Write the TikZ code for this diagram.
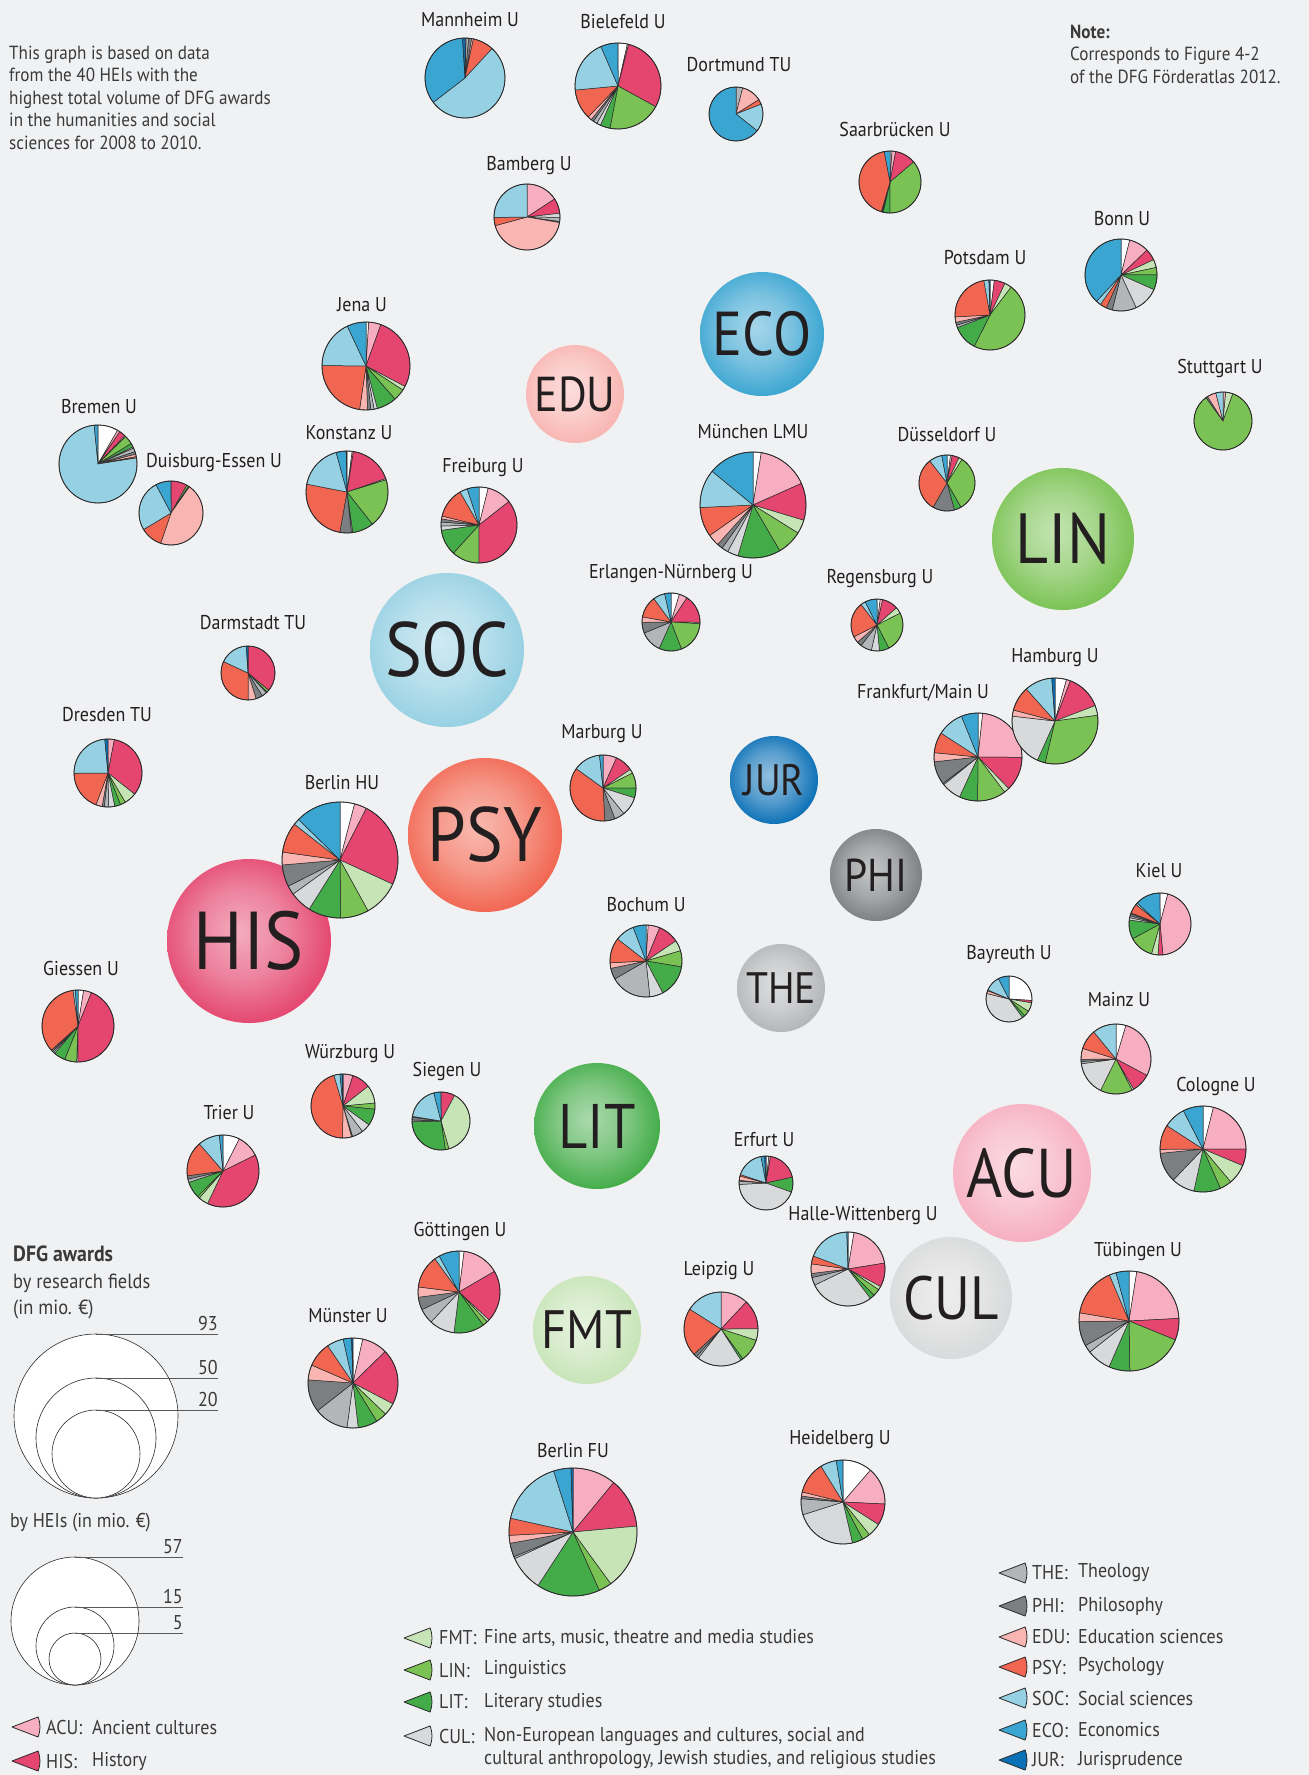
\documentclass[tikz,border=0pt]{standalone}
\usepackage{fontspec}
\setmainfont{PT Sans}[FakeStretch=0.9]

% colours of the research fields
\definecolor{bg}{HTML}{F0F1F3}
\definecolor{txt}{HTML}{231F20}
\definecolor{txtsoft}{HTML}{3A3A3A}
\definecolor{pieline}{HTML}{2A2A2A}
\definecolor{cW}{HTML}{FFFFFF}
\definecolor{cACU}{HTML}{F6AEC0}
\definecolor{cHIS}{HTML}{E4466F}
\definecolor{cFMT}{HTML}{C7E4B7}
\definecolor{cLIN}{HTML}{7AC253}
\definecolor{cLIT}{HTML}{43AC48}
\definecolor{cCUL}{HTML}{D8D9DA}
\definecolor{cTHE}{HTML}{B3B6B8}
\definecolor{cPHI}{HTML}{7B7F82}
\definecolor{cEDU}{HTML}{F8B5B1}
\definecolor{cPSY}{HTML}{F16651}
\definecolor{cSOC}{HTML}{96D0E3}
\definecolor{cECO}{HTML}{3BA5D1}
\definecolor{cJUR}{HTML}{0B70B6}

% shaded bubble of a research field
\colorlet{fieldbase}{cECO}
\pgfdeclareradialshading[fieldbase]{fieldshade}{\pgfpoint{-3bp}{3bp}}{%
  color(0bp)=(fieldbase!45!white);
  color(14bp)=(fieldbase!68!white);
  color(22bp)=(fieldbase!88!white);
  color(27bp)=(fieldbase);
  color(50bp)=(fieldbase!88!black)}

% pie of one HEI: x, y (pixels, y down), radius, shares in the order
% white, ACU, HIS, FMT, LIN, LIT, CUL, THE, PHI, EDU, PSY, SOC, ECO, JUR
\newcommand{\heipie}[4]{%
  \gdef\piesum{0}%
  \foreach \v in {#4} {\pgfmathsetmacro\tmpsum{\piesum+\v}\global\let\piesum\tmpsum}%
  \gdef\angstart{90}%
  \foreach \c [count=\i] in {cW,cACU,cHIS,cFMT,cLIN,cLIT,cCUL,cTHE,cPHI,cEDU,cPSY,cSOC,cECO,cJUR} {%
    \pgfmathsetmacro\v{{#4}[\i-1]}%
    \pgfmathsetmacro\angend{\angstart-\v/\piesum*360}%
    \ifdim\v pt>0pt
      \filldraw[slice, fill=\c] (#1,-#2) -- ++(\angstart:#3)
        arc[start angle=\angstart, end angle=\angend, radius=#3] -- cycle;
    \fi
    \global\let\angstart\angend
  }%
  \draw[pierim] (#1,-#2) circle[radius=#3];
}

% one HEI: node name, label, label x, label y, pie x, pie y, radius, shares
\newcommand{\hei}[8]{%
  \heipie{#5}{#6}{#7}{#8}
  \node[heilabel] (#1) at (#3,-#4) {#2};
}

% wedge of the legend, tip at x, y
\newcommand{\legwedge}[3]{%
  \filldraw[wedge, fill=#3] (#1,-#2) -- ++(21:28) arc[start angle=21, end angle=-21, radius=28] -- cycle;
}

\begin{document}
\begin{tikzpicture}[x=1pt, y=1pt,
    slice/.style={draw=pieline, line width=0.5pt, line join=round},
    pierim/.style={draw=pieline, line width=0.8pt},
    wedge/.style={draw=pieline, line width=0.8pt, line join=round},
    field/.style={circle, inner sep=0pt, text=txt, shade, shading=fieldshade,
      /utils/exec={\colorlet{fieldbase}{#1}}},
    heilabel/.style={font=\fontsize{20}{20}\selectfont, text=txt, inner sep=0pt},
    legtext/.style={font=\fontsize{20}{24}\selectfont, text=txtsoft, inner sep=0pt, anchor=west},
    legcircle/.style={draw=pieline, fill=white, line width=0.6pt},
    legline/.style={draw=black!65, line width=0.7pt}]

  % background and page size
  \fill[bg] (0,0) rectangle (1309,-1775);
  \useasboundingbox (0,0) rectangle (1309,-1775);

  % research fields
  \node[field=cECO, minimum size=124pt, font=\fontsize{62}{62}\selectfont] (ECO) at (762,-334) {ECO};
  \node[field=cEDU, minimum size=98pt,  font=\fontsize{49}{49}\selectfont] (EDU) at (575,-394) {EDU};
  \node[field=cLIN, minimum size=142pt, font=\fontsize{71}{71}\selectfont] (LIN) at (1063,-539) {LIN};
  \node[field=cSOC, minimum size=154pt, font=\fontsize{77}{77}\selectfont] (SOC) at (447,-650) {SOC};
  \node[field=cJUR, minimum size=88pt,  font=\fontsize{44}{44}\selectfont] (JUR) at (774,-780) {JUR};
  \node[field=cPSY, minimum size=154pt, font=\fontsize{77}{77}\selectfont] (PSY) at (485,-835) {PSY};
  \node[field=cPHI, minimum size=92pt,  font=\fontsize{46}{46}\selectfont] (PHI) at (876,-875) {PHI};
  \node[field=cHIS, minimum size=164pt, font=\fontsize{82}{82}\selectfont] (HIS) at (249,-941) {HIS};
  \node[field=cTHE, minimum size=88pt,  font=\fontsize{44}{44}\selectfont] (THE) at (781,-988) {THE};
  \node[field=cLIT, minimum size=126pt, font=\fontsize{63}{63}\selectfont] (LIT) at (597,-1126) {LIT};
  \node[field=cACU, minimum size=138pt, font=\fontsize{69}{69}\selectfont] (ACU) at (1022,-1173) {ACU};
  \node[field=cCUL, minimum size=122pt, font=\fontsize{61}{61}\selectfont] (CUL) at (951,-1298) {CUL};
  \node[field=cFMT, minimum size=108pt, font=\fontsize{54}{54}\selectfont] (FMT) at (587,-1330) {FMT};

  % HEIs
  \hei{mannheim}{Mannheim U}{470}{20}{465}{78}{40}{0,0.5,0,0,0,0,0,1,1.2,0.7,8.5,53,34.6,1}
  \hei{bielefeld}{Bielefeld U}{623}{22}{618}{86}{43}{3.5,0.5,29,0,20,3.7,1.5,1.5,1,1.5,11.3,20,6.5,0}
  \hei{dortmund}{Dortmund TU}{739}{65}{736}{114}{27}{0,0,0,0,0,0,0,4,0,12,3,16.5,64,0}
  \hei{bamberg}{Bamberg U}{529}{166}{527}{217}{33}{0,15.7,7.3,0,0,0,2,2,0.5,42.7,4,25,0,0}
  \hei{saarbruecken}{Saarbrücken U}{895}{129}{890}{182}{31}{1,2,11,0,36.7,3.5,0,0.5,0.5,0,43,0,3,0}
  \hei{bonn}{Bonn U}{1122}{219}{1121}{275}{36}{3.9,8.9,5.2,3.6,3.3,6.7,11.4,10.8,2.8,0,3,2.2,38,0}
  \hei{potsdam}{Potsdam U}{985}{258}{990}{315}{35}{2,0,5,3.3,47,11.7,0,1.2,1.3,2.5,23,2.3,0,0.5}
  \hei{stuttgart}{Stuttgart U}{1220}{368}{1223}{421}{29}{0,1.5,0,4,84.5,0,0,0,1,5,0,4,0,0}
  \hei{jena}{Jena U}{362}{305}{366}{366}{44}{1,4.5,27.3,1.5,4.4,7.3,1.2,1.2,1.2,2.9,22.9,17.9,7,0}
  \hei{bremen}{Bremen U}{99}{407}{98}{464}{39}{8,1,2.5,0.5,3.5,1.5,0.5,1.5,1,1,0.5,72.5,1.5,0}
  \hei{duisburg}{Duisburg-Essen U}{214}{463}{171}{513}{32}{0,0,8.3,0,1,0.5,0,0,0,45.7,11.2,26,7.8,0}
  \hei{konstanz}{Konstanz U}{349}{433}{347}{492}{41}{2,0.5,17,0.5,19,8.3,0,0.5,4.5,0,25,17.5,3.9,0.3}
  \hei{freiburg}{Freiburg U}{483}{468}{479}{525}{38}{3.9,10.5,35.6,0,11.7,11,1.8,1.7,1.3,1.2,12.9,3.3,5,0}
  \hei{muenchen}{München LMU}{753}{432}{753}{505}{53}{2.5,15.8,11.3,4.2,7.7,13,3.3,2,1.7,3.6,9,11.7,14,0}
  \hei{duesseldorf}{Düsseldorf U}{947}{435}{947}{483}{28}{2,1,4,2,32.5,4,0,0,12.5,0,31,7.5,3,0}
  \hei{erlangen}{Erlangen-Nürnberg U}{671}{574}{671}{622}{29}{4.7,4.5,15.8,0.8,18,12.5,0,12,6,3,12,6.5,3.5,0}
  \hei{regensburg}{Regensburg U}{880}{579}{877}{625}{26}{2,1.5,10,4,25,6,5,7,3,4,22,3,7.5,0}
  \hei{darmstadt}{Darmstadt TU}{253}{623}{248}{673}{27}{0,0,36,0,1.5,0.5,0,3,4,4.7,32,17,0,1}
  \hei{frankfurt}{Frankfurt/Main U}{923}{693}{978}{757}{44}{1.7,23.3,12.5,2,10.4,6.7,7.3,0.5,8.5,3.3,7.5,9.7,6.1,0}
  \hei{hamburg}{Hamburg U}{1055}{658}{1055}{721}{43}{4.3,1.5,13.3,3.7,30.7,3,20,0,0,2.3,9.2,10.4,0,1.2}
  \hei{dresden}{Dresden TU}{107}{715}{108}{773}{34}{0,3,32.5,5.8,2.5,2.8,2.9,2,1,3,19,23.5,0,1.5}
  \hei{marburg}{Marburg U}{602}{734}{603}{788}{33}{0,6.7,8.8,2,7.5,4.8,9.3,5,5,0,35.8,13.3,1.7,0}
  \hei{berlinhu}{Berlin HU}{342}{783}{340}{860}{58}{4,3.4,24,10,7.7,9,6,2.5,6,3.5,8.3,1.7,12.5,0}
  \hei{kiel}{Kiel U}{1159}{871}{1160}{924}{31}{4,44,2.5,3.4,12.6,9.8,1.2,1,1,0.5,5,1,13,0}
  \hei{bochum}{Bochum U}{646}{905}{646}{961}{36}{1,5.2,9.4,4.8,7.2,14.7,6,18.4,5,2.5,11.3,8.7,5.8,0}
  \hei{bayreuth}{Bayreuth U}{1009}{954}{1009}{999}{23}{26,0,1.7,6.3,4,2,38.9,0,0,2,0.5,11,7.6,0}
  \hei{giessen}{Giessen U}{81}{968}{78}{1026}{36}{2.5,3.6,43.9,0.5,5.4,5.2,0.7,0.7,0.6,0,34.5,1,1.2,0}
  \hei{mainz}{Mainz U}{1119}{999}{1116}{1059}{35}{4.5,27.8,8.7,0.8,14.7,0,15.3,1,1,5,9,10.8,0,0}
  \hei{wuerzburg}{Würzburg U}{350}{1054}{343}{1106}{32}{0,5,9.2,9,3,8.3,4.5,5.5,0.5,4.5,44.5,3,1,0.5}
  \hei{siegen}{Siegen U}{447}{1071}{441}{1121}{29}{0,0,7.8,37.8,2,27,0,1,1.5,0.5,0,18.4,4,0}
  \hei{cologne}{Cologne U}{1216}{1086}{1203}{1149}{43}{3.9,21,6.3,7.5,4.5,10,8.7,0,11.2,1.5,9.2,8.3,7.5,0}
  \hei{trier}{Trier U}{229}{1113}{223}{1171}{36}{7.5,10.2,39.3,4.4,1,7.4,0,1.5,1.5,0,15.7,9.8,1.6,0}
  \hei{erfurt}{Erfurt U}{764}{1140}{766}{1183}{27}{1.7,1,19,0,0,9,43.9,2,0.5,2.5,1,17,2.2,0.8}
  \hei{halle}{Halle-Wittenberg U}{863}{1216}{848}{1269}{37}{2.5,19,10,1.5,3,2,27,3.3,1.7,4,3.3,18,0.5,0}
  \hei{goettingen}{Göttingen U}{460}{1231}{459}{1292}{41}{2,14.6,20.3,1,2,12,10,6,5,4,13,2,8,0}
  \hei{tuebingen}{Tübingen U}{1138}{1252}{1129}{1321}{50}{2.5,21.7,7,0,18.6,6.8,7.8,2.5,8,2.8,16,2.2,4.2,0}
  \hei{leipzig}{Leipzig U}{719}{1271}{721}{1329}{37}{0,12,13,5,10,1,19.6,1,1.5,0,21,16,0,0}
  \hei{muenster}{Münster U}{348}{1316}{353}{1383}{45}{3.5,9.2,20,4.5,4,7,4,12.3,11.7,5.4,9,6,3,0.5}
  \hei{heidelberg}{Heidelberg U}{840}{1440}{843}{1502}{42}{11,14,8,5,3,4,23,6,1,1.5,12,6,2.5,0}
  \hei{berlinfu}{Berlin FU}{573}{1451}{573}{1532}{64}{0,11,12.6,16.5,3.3,16,9,0.5,3.5,2,4.3,16.7,4.4,0.5}

  % notes
  \node[anchor=north west, align=left, inner sep=0pt, text=txtsoft,
    font=\fontsize{19}{22.6}\selectfont] (intro) at (9,-45.5)
    {This graph is based on data\\from the 40 HEIs with the\\highest total volume of DFG awards\\in the humanities and social\\sciences for 2008 to 2010.};
  \node[anchor=north west, align=left, inner sep=0pt, text=txtsoft,
    font=\fontsize{19}{22.6}\selectfont] (note) at (1070,-24.5)
    {\textbf{Note:}\\Corresponds to Figure 4-2\\of the DFG Förderatlas 2012.};

  % size legend
  \node[anchor=north west, align=left, inner sep=0pt, text=txtsoft,
    font=\fontsize{20.5}{26.5}\selectfont] (sizes) at (13,-1246)
    {{\fontsize{22}{26.5}\selectfont\bfseries DFG awards}\\by research fields\\(in mio. €)};
  \draw[legcircle] (96,-1416) circle[radius=82];
  \draw[legcircle] (96,-1438) circle[radius=60];
  \draw[legcircle] (96,-1454) circle[radius=44];
  \draw[legline] (96,-1334) -- (218,-1334) node[legtext, anchor=south east, yshift=3pt] (s93) {93};
  \draw[legline] (96,-1378) -- (218,-1378) node[legtext, anchor=south east, yshift=3pt] (s50) {50};
  \draw[legline] (96,-1410) -- (218,-1410) node[legtext, anchor=south east, yshift=3pt] (s20) {20};

  \node[legtext] (byhei) at (10,-1523) {by HEIs (in mio. €)};
  \draw[legcircle] (75,-1621) circle[radius=64];
  \draw[legcircle] (75,-1646) circle[radius=39];
  \draw[legcircle] (75,-1659) circle[radius=26];
  \draw[legline] (75,-1557) -- (183,-1557) node[legtext, anchor=south east, yshift=3pt] (s57) {57};
  \draw[legline] (75,-1607) -- (183,-1607) node[legtext, anchor=south east, yshift=3pt] (s15) {15};
  \draw[legline] (75,-1633) -- (183,-1633) node[legtext, anchor=south east, yshift=3pt] (s5) {5};

  % field legend
  \foreach \ab/\desc/\yy in {ACU/Ancient cultures/1727, HIS/History/1761} {
    \legwedge{12}{\yy}{c\ab}
    \node[legtext] (ab\ab) at (46,-\yy) {\ab:};
    \node[legtext] (de\ab) at (92,-\yy) {\desc};
  }
  \foreach \ab/\desc/\yy in {FMT/{Fine arts, music, theatre and media studies}/1638,
      LIN/Linguistics/1670, LIT/Literary studies/1702,
      CUL/{Non-European languages and cultures, social and}/1736} {
    \legwedge{404}{\yy}{c\ab}
    \node[legtext] (ab\ab) at (439,-\yy) {\ab:};
    \node[legtext] (de\ab) at (484,-\yy) {\desc};
  }
  \node[legtext] (deCULb) at (484,-1760) {cultural anthropology, Jewish studies, and religious studies};
  \foreach \ab/\desc/\yy in {THE/Theology/1573, PHI/Philosophy/1606, EDU/Education sciences/1637,
      PSY/Psychology/1667, SOC/Social sciences/1698, ECO/Economics/1730, JUR/Jurisprudence/1760} {
    \legwedge{999}{\yy}{c\ab}
    \node[legtext] (ab\ab) at (1032,-\yy) {\ab:};
    \node[legtext] (de\ab) at (1078,-\yy) {\desc};
  }
\end{tikzpicture}
\end{document}
